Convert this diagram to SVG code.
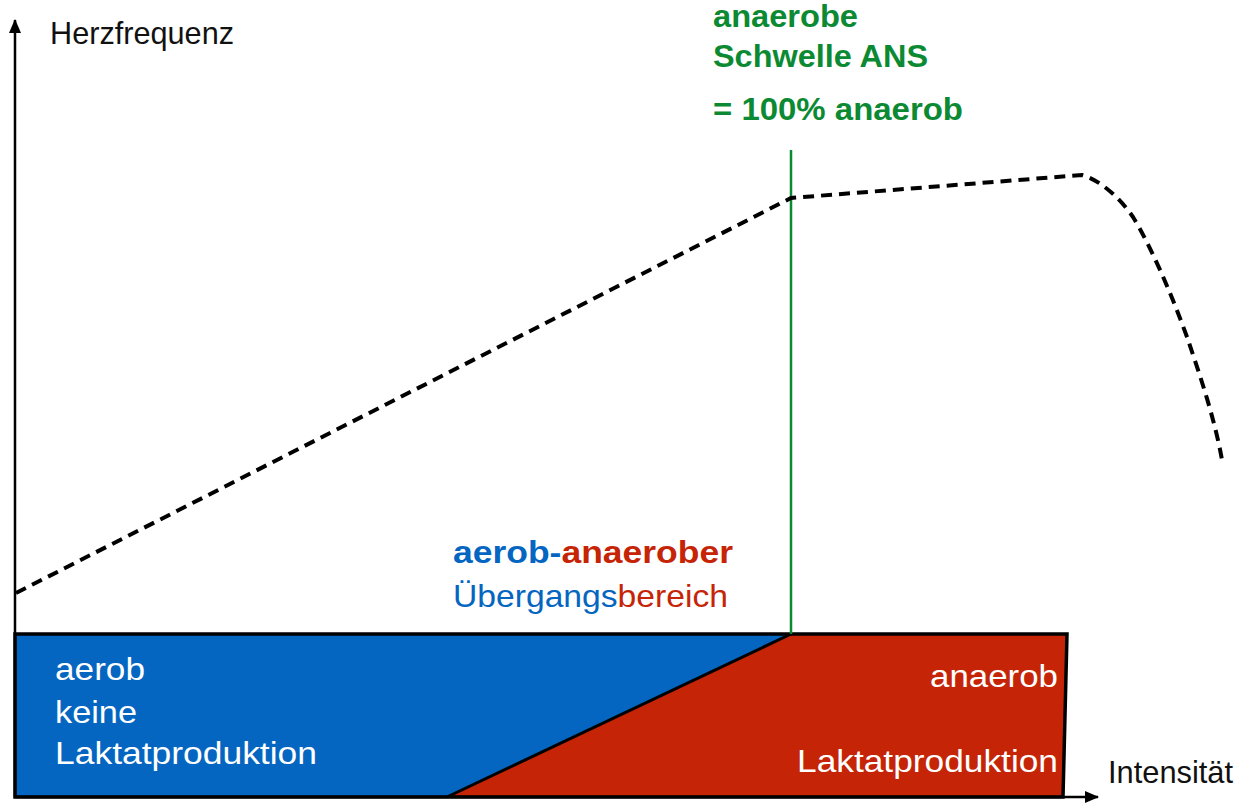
<svg xmlns="http://www.w3.org/2000/svg" width="1246" height="803" viewBox="0 0 1246 803">
<style>
.t{font-family:"Liberation Sans",Arial,sans-serif;font-size:32px}
.b{font-weight:bold}
.g{fill:#0B8A33}
.w{fill:#ffffff}
.blue{fill:#0466C1}
.red{fill:#C52506}
.curve{fill:none;stroke:#000;stroke-width:4;stroke-dasharray:11 7}
</style>
<defs>
<marker id="arr2" markerWidth="14" markerHeight="14" refX="13" refY="7" orient="auto" markerUnits="userSpaceOnUse">
<path d="M0,1 L14,7 L0,13 Z" fill="#000"/>
</marker>
</defs>
<g id="zones">
<polygon points="15,634 791,634 447,797 15,797" fill="#0466C1"/>
<polygon points="791,634 1067,634 1063,797 447,797" fill="#C52506"/>
<polygon points="15,634 1067,634 1063,797 15,797" fill="none" stroke="#000" stroke-width="3.5"/>
<line x1="791" y1="634" x2="447" y2="797" stroke="#000" stroke-width="3"/>
</g>
<g id="connectors">
<line x1="15" y1="797" x2="15" y2="20" stroke="#000" stroke-width="2.5" marker-end="url(#arr2)"/>
<line x1="15" y1="797" x2="1098" y2="797" stroke="#000" stroke-width="2.5" marker-end="url(#arr2)"/>
<line x1="791" y1="150" x2="791" y2="634" stroke="#0B8A33" stroke-width="2.5"/>
<path class="curve" d="M16,593 L791,198 L1082,175 C1100,180 1120,198 1133,217 C1150,245 1170,290 1187,337 C1200,375 1215,420 1222,460"/>
</g>
<g id="labels">
<text class="t" x="50" y="44" fill="#111" textLength="184" lengthAdjust="spacingAndGlyphs">Herzfrequenz</text>
<text class="t b g" x="713" y="27" textLength="145" lengthAdjust="spacingAndGlyphs">anaerobe</text>
<text class="t b g" x="713" y="67" textLength="215" lengthAdjust="spacingAndGlyphs">Schwelle ANS</text>
<text class="t b g" x="713" y="120" textLength="250" lengthAdjust="spacingAndGlyphs">= 100% anaerob</text>
<text class="t b" x="453" y="563" textLength="280" lengthAdjust="spacingAndGlyphs"><tspan class="blue">aerob-</tspan><tspan class="red">anaerober</tspan></text>
<text class="t" x="453" y="607" textLength="275" lengthAdjust="spacingAndGlyphs"><tspan class="blue">Übergangs</tspan><tspan class="red">bereich</tspan></text>
<text class="t w" x="55" y="680" textLength="90" lengthAdjust="spacingAndGlyphs">aerob</text>
<text class="t w" x="55" y="723" textLength="82" lengthAdjust="spacingAndGlyphs">keine</text>
<text class="t w" x="55" y="764" textLength="262" lengthAdjust="spacingAndGlyphs">Laktatproduktion</text>
<text class="t w" x="930" y="687" textLength="128" lengthAdjust="spacingAndGlyphs">anaerob</text>
<text class="t w" x="797" y="772" textLength="261" lengthAdjust="spacingAndGlyphs">Laktatproduktion</text>
<text class="t" x="1108" y="783" fill="#111" textLength="125" lengthAdjust="spacingAndGlyphs">Intensität</text>
</g>
</svg>
